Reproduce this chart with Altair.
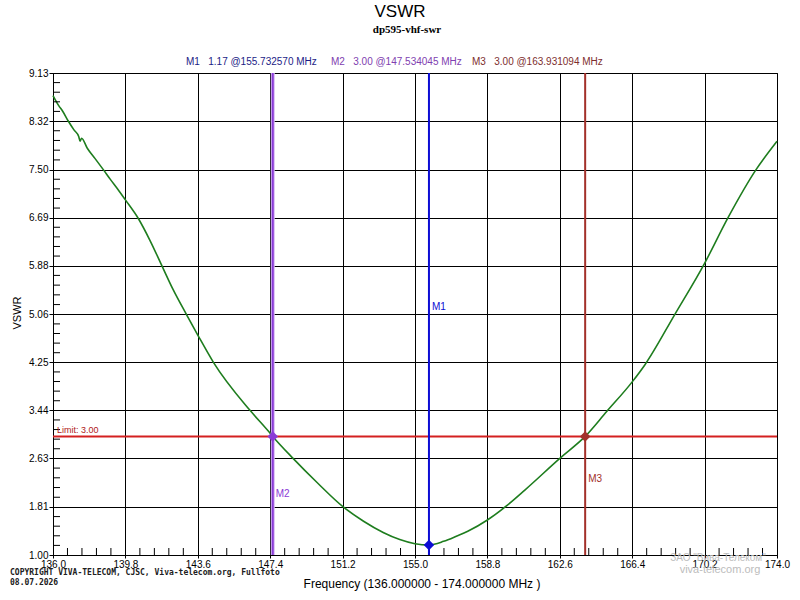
import altair as alt
import pandas as pd

# --- VSWR sweep of dp595-vhf-swr (frequency in MHz, VSWR) ---
FREQ = [136.0, 136.3, 136.5, 136.8, 137.1, 137.35, 137.42, 137.5, 137.8, 138.2,
        138.64, 139.0, 139.4, 139.8, 140.47, 141.1, 141.7, 142.3, 143.0,
        143.6, 144.42, 146.34, 147.3, 147.534, 148.6, 149.9, 151.2, 152.3, 153.33,
        154.2, 155.0, 155.73, 156.5, 157.2, 157.77, 158.8, 159.73, 160.78, 162.6,
        163.93, 165.06, 166.4, 167.07, 168.64, 170.2, 171.43, 172.9, 174.0]
VSWR = [8.75, 8.58, 8.49, 8.32, 8.17, 8.06, 7.98, 8.03, 7.86, 7.69,
        7.50, 7.34, 7.17, 6.99, 6.68, 6.30, 5.89, 5.48, 5.06,
        4.71, 4.25, 3.44, 3.09, 3.00, 2.63, 2.21, 1.82, 1.57, 1.38,
        1.26, 1.19, 1.17, 1.23, 1.32, 1.40, 1.59, 1.81, 2.10, 2.63,
        3.00, 3.42, 3.92, 4.21, 5.06, 5.92, 6.69, 7.50, 7.98]

MARKER_NAMES = ["M1", "M2", "M3"]
MARKER_FREQ = [155.732570, 147.534045, 163.931094]
MARKER_VSWR = [1.17, 3.00, 3.00]
MARKER_COLORS = ["#0c0cd4", "#8a3cd6", "#a3302a"]
MARKER_TEXT_COLORS = ["#1c1c86", "#8040b0", "#7e2e2e"]

LIMIT = 3.00

X_TICK_LABELS = [136.0, 139.8, 143.6, 147.4, 151.2, 155.0, 158.8, 162.6, 166.4, 170.2, 174.0]
Y_TICK_LABELS = [1.00, 1.81, 2.63, 3.44, 4.25, 5.06, 5.88, 6.69, 7.50, 8.32, 9.13]

W, H = 724, 482
FONT = "Liberation Sans"
NB = "\u00a0"

curve_df = pd.DataFrame({"freq": FREQ, "vswr": VSWR})
markers_df = pd.DataFrame({"name": MARKER_NAMES, "freq": MARKER_FREQ, "vswr": MARKER_VSWR})

# minor ticks: four between each pair of labelled ticks
x_minor = [a + (b - a) * k / 5 for a, b in zip(X_TICK_LABELS[:-1], X_TICK_LABELS[1:]) for k in range(1, 5)]
y_minor = [a + (b - a) * k / 5 for a, b in zip(Y_TICK_LABELS[:-1], Y_TICK_LABELS[1:]) for k in range(1, 5)]

xscale = alt.Scale(domain=[X_TICK_LABELS[0], X_TICK_LABELS[-1]], nice=False, zero=False)
yscale = alt.Scale(domain=[Y_TICK_LABELS[0], Y_TICK_LABELS[-1]], nice=False, zero=False)

axis_common = dict(
    title=None, grid=True, gridColor="black", gridOpacity=1, gridWidth=1,
    tickColor="black", domainColor="black", domainWidth=1,
    labelFont=FONT, labelFontSize=10, labelColor="black",
    labelOverlap=False, labelFlush=False,
)
xaxis = alt.Axis(values=X_TICK_LABELS, format=".1f", tickSize=3, labelPadding=1, **axis_common)
yaxis = alt.Axis(values=Y_TICK_LABELS, format=".2f", tickSize=4, labelPadding=1, **axis_common)


def X(field):
    return alt.X(field, type="quantitative", scale=xscale, axis=xaxis)


def Y(field):
    return alt.Y(field, type="quantitative", scale=yscale, axis=yaxis)


def label(text, x, y, **kw):
    return alt.Chart(pd.DataFrame({"t": [text]})).mark_text(**kw).encode(
        text="t:N", x=alt.value(x), y=alt.value(y)
    )


curve = alt.Chart(curve_df).mark_line(color="#1e7d1e", strokeWidth=1.6, interpolate="monotone").encode(
    x=X("freq"), y=Y("vswr")
)

xminor = alt.Chart(pd.DataFrame({"f": x_minor})).mark_rule(color="black", strokeWidth=1).encode(
    x=X("f"), y=alt.value(H), y2=alt.value(H - 7)
)
yminor = alt.Chart(pd.DataFrame({"v": y_minor})).mark_rule(color="black", strokeWidth=1).encode(
    y=Y("v"), x=alt.value(0), x2=alt.value(7)
)

limit_rule = alt.Chart(pd.DataFrame({"v": [LIMIT]})).mark_rule(color="#d42020", strokeWidth=2).encode(
    y=Y("v")
)
limit_text = alt.Chart(pd.DataFrame({"v": [LIMIT], "t": [f"Limit: {LIMIT:.2f}"]})).mark_text(
    align="left", baseline="bottom", font=FONT, fontSize=9, color="#b01818", dx=4, dy=-1
).encode(y=Y("v"), x=alt.value(0), text="t:N")

# marker lines (M2 drawn with a pale halo)
m2_halo = alt.Chart(markers_df[markers_df.name == "M2"]).mark_rule(color="#d6b8f4", strokeWidth=4).encode(
    x=X("freq")
)
marker_rules = alt.Chart(markers_df).mark_rule(strokeWidth=2).encode(
    x=X("freq"),
    color=alt.Color("name:N", scale=alt.Scale(domain=MARKER_NAMES, range=MARKER_COLORS), legend=None),
)
marker_points = alt.Chart(markers_df).mark_point(shape="diamond", filled=True, size=110, opacity=1).encode(
    x=X("freq"), y=Y("vswr"),
    color=alt.Color("name:N", scale=alt.Scale(domain=MARKER_NAMES, range=MARKER_COLORS), legend=None),
)

# marker name tags beside each vertical line
tag_y = {"M1": 234, "M2": 421, "M3": 406}
tags = [
    alt.Chart(markers_df[markers_df.name == n]).mark_text(
        align="left", baseline="middle", font=FONT, fontSize=10, color=c, dx=3
    ).encode(x=X("freq"), y=alt.value(tag_y[n]), text="name:N")
    for n, c in zip(MARKER_NAMES, MARKER_COLORS)
]

# header texts
title = label("VSWR", 347, -61, font=FONT, fontSize=17, align="center", baseline="middle", color="black")
subtitle = label("dp595-vhf-swr", 354, -43, font="Liberation Serif", fontSize=11, fontWeight="bold",
                 align="center", baseline="middle", color="black")
readouts = [
    label(f"M1{NB}{NB}{NB}1.17 @155.732570 MHz", 133, -11, font=FONT, fontSize=10, align="left",
          baseline="middle", color=MARKER_TEXT_COLORS[0]),
    label(f"M2{NB}{NB}{NB}3.00 @147.534045 MHz", 278, -11, font=FONT, fontSize=10, align="left",
          baseline="middle", color=MARKER_TEXT_COLORS[1]),
    label(f"M3{NB}{NB}{NB}3.00 @163.931094 MHz", 419, -11, font=FONT, fontSize=10, align="left",
          baseline="middle", color=MARKER_TEXT_COLORS[2]),
]

xtitle = label("Frequency (136.000000 - 174.000000 MHz )", 369, 511, font=FONT, fontSize=12,
               align="center", baseline="middle", color="black")
ytitle = label("VSWR", -35, 240, font=FONT, fontSize=11, align="center", baseline="middle",
               angle=270, color="black")

copy1 = label("COPYRIGHT VIVA-TELECOM, CJSC, Viva-telecom.org, Fullfoto", -43, 500,
              font="DejaVu Sans Mono", fontSize=8, fontWeight="bold", align="left", baseline="middle",
              color="#202020")
copy2 = label("08.07.2026", -43, 510, font="DejaVu Sans Mono", fontSize=8, fontWeight="bold",
              align="left", baseline="middle", color="#202020")

wm1 = label("ЗАО \"Вива-Телеком\"", 665, 485, font=FONT, fontSize=10, align="center", baseline="middle",
            color="#bcbcbc")
wm2 = label("viva-telecom.org", 667, 497, font=FONT, fontSize=11, align="center", baseline="middle",
            color="#bcbcbc")

chart = alt.layer(
    curve, xminor, yminor, limit_rule, limit_text, m2_halo, marker_rules, marker_points,
    *tags, title, subtitle, *readouts, xtitle, ytitle, copy1, copy2, wm1, wm2
).properties(
    width=W, height=H,
    autosize=alt.AutoSizeParams(type="none"),
    padding={"left": 53, "top": 73, "right": 23, "bottom": 45},
    background="white",
).configure_view(stroke="black", strokeWidth=1)

chart.save("out.html", embed_options={"renderer": "svg", "actions": False})
